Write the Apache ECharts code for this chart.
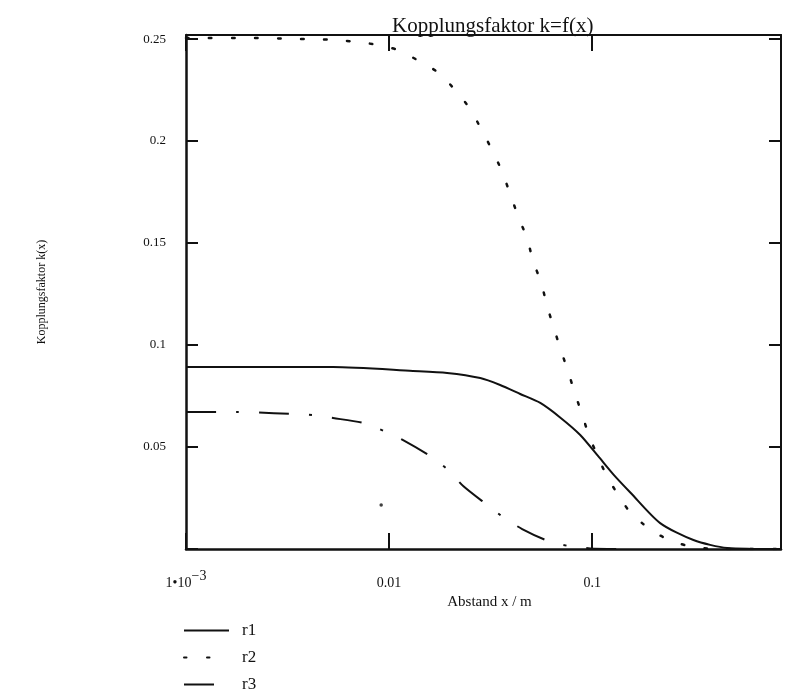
<!DOCTYPE html>
<html>
<head>
<meta charset="utf-8">
<script src="https://cdn.jsdelivr.net/npm/echarts@6/dist/echarts.min.js"></script>
<style>
  html, body { margin: 0; padding: 0; background: #ffffff; }
  #chart { width: 795px; height: 695px; }
</style>
</head>
<body>
<div id="chart"></div>
<script>
// ---- data (x in m, k dimensionless) ----
const seriesNames = ['r1', 'r2', 'r3'];
const xTickValues = [0.001, 0.01, 0.1];
const yTickLabels = ['0.05', '0.1', '0.15', '0.2', '0.25'];

const r1X = [0.001, 0.0053, 0.0131, 0.0193, 0.0281, 0.0352, 0.0442, 0.0555, 0.0695, 0.0873, 0.107, 0.127, 0.154, 0.216, 0.315, 0.462, 0.85];
const r1Y = [0.0892, 0.0892, 0.0873, 0.0863, 0.0838, 0.0804, 0.0760, 0.0716, 0.0645, 0.0559, 0.0455, 0.0366, 0.0277, 0.0127, 0.0044, 0.0005, 0.0];

const r2X = [0.001, 0.00227, 0.00297, 0.0039, 0.00512, 0.00665, 0.00873, 0.01107, 0.01406, 0.01762, 0.02113, 0.02506, 0.02838, 0.03213, 0.03606, 0.03945, 0.04315, 0.04786, 0.05117, 0.0561, 0.060, 0.065, 0.0703, 0.0762, 0.0824, 0.0893, 0.0966, 0.107, 0.1186, 0.1343, 0.152, 0.176, 0.209, 0.2535, 0.315, 0.399, 0.85];
const r2Y = [0.2505, 0.2505, 0.2503, 0.2500, 0.2497, 0.2488, 0.2472, 0.2446, 0.2392, 0.2333, 0.2250, 0.2157, 0.2059, 0.1956, 0.1848, 0.1740, 0.1632, 0.1520, 0.1412, 0.1304, 0.1191, 0.1078, 0.0971, 0.0868, 0.0760, 0.0657, 0.0554, 0.0450, 0.0353, 0.0265, 0.0186, 0.0127, 0.0074, 0.0034, 0.0010, 0.0001, 0.0];

const r3X = [0.001, 0.00178, 0.00271, 0.00418, 0.0053, 0.00745, 0.00944, 0.01172, 0.0159, 0.01953, 0.02316, 0.0304, 0.0369, 0.0452, 0.0607, 0.0762, 0.0977, 0.1327];
const r3Y = [0.0672, 0.0672, 0.0666, 0.0657, 0.0642, 0.0618, 0.0578, 0.0534, 0.0456, 0.0387, 0.0309, 0.0216, 0.0152, 0.0098, 0.0039, 0.0015, 0.0003, 0.0];

const strayX = [0.00914];
const strayY = [0.0216];

const xMin = 0.001, xMax = 0.85;
const yMin = 0, yMax = 0.252;

function pairs(xs, ys) { return xs.map((x, i) => [x, ys[i]]); }

const FONT = '"Liberation Serif", "DejaVu Serif", serif';
const chart = echarts.init(document.getElementById('chart'), null, { renderer: 'canvas' });

const isTick = v => xTickValues.some(t => Math.abs(Math.log10(v) - Math.log10(t)) < 1e-6);

const option = {
  backgroundColor: '#ffffff',
  animation: false,
  title: {
    text: 'Kopplungsfaktor k=f(x)',
    left: 387, top: 11,
    textStyle: { fontFamily: FONT, fontSize: 21, fontWeight: 'normal', color: '#111' }
  },
  legend: {
    orient: 'vertical',
    left: 183, top: 622, padding: 0,
    itemWidth: 45, itemHeight: 14, itemGap: 10,
    data: seriesNames,
    itemStyle: { opacity: 0 },
    textStyle: { fontFamily: FONT, fontSize: 17, color: '#111', padding: [0, 0, 0, 8] }
  },
  grid: { left: 186, right: 14, top: 35, bottom: 146, containLabel: false },
  xAxis: [{
    type: 'log', logBase: 10, min: xMin, max: xMax,
    name: 'Abstand x / m', nameLocation: 'middle', nameGap: 46,
    nameTextStyle: { fontFamily: FONT, fontSize: 15, color: '#111', padding: [0, 0, 0, 12] },
    axisLine: { onZero: false, lineStyle: { color: '#111', width: 2.5 } },
    axisTick: { show: true, inside: true, length: 16, lineStyle: { color: '#111', width: 2 } },
    minorTick: { show: false },
    splitLine: { show: false },
    axisLabel: {
      margin: 20, showMaxLabel: false,
      fontFamily: FONT, fontSize: 14, color: '#111',
      formatter: function (v) {
        if (!isTick(v)) return '';
        if (Math.abs(v - 0.001) < 1e-9) return '{b|1•10}{s|−3}';
        return '{b|' + (v >= 0.1 ? '0.1' : '0.01') + '}';
      },
      rich: {
        b: { fontFamily: FONT, fontSize: 14, color: '#111', lineHeight: 28 },
        s: { fontFamily: FONT, fontSize: 14, color: '#111', lineHeight: 10, verticalAlign: 'top' }
      }
    }
  }, {
    type: 'log', logBase: 10, min: xMin, max: xMax, position: 'top',
    axisLine: { onZero: false, lineStyle: { color: '#111', width: 2 } },
    axisTick: { show: true, inside: true, length: 16, lineStyle: { color: '#111', width: 2 } },
    minorTick: { show: false },
    axisLabel: { show: false }, splitLine: { show: false }
  }],
  yAxis: [{
    type: 'value', min: yMin, max: yMax, interval: 0.05,
    name: 'Kopplungsfaktor k(x)', nameLocation: 'middle', nameGap: 138,
    nameTextStyle: { fontFamily: FONT, fontSize: 12, color: '#111' },
    axisLine: { show: true, onZero: false, lineStyle: { color: '#111', width: 2.5 } },
    axisTick: { show: true, inside: true, length: 12, lineStyle: { color: '#111', width: 2 } },
    splitLine: { show: false },
    axisLabel: {
      margin: 20, fontFamily: FONT, fontSize: 13, color: '#111',
      formatter: function (v) {
        const s = yTickLabels.find(t => Math.abs(parseFloat(t) - v) < 1e-6);
        return s || '';
      }
    }
  }, {
    type: 'value', min: yMin, max: yMax, interval: 0.05, position: 'right',
    axisLine: { show: true, onZero: false, lineStyle: { color: '#111', width: 2 } },
    axisTick: { show: true, inside: true, length: 12, lineStyle: { color: '#111', width: 2 } },
    axisLabel: { show: false }, splitLine: { show: false }
  }],
  series: [
    {
      name: 'r1', type: 'line', data: pairs(r1X, r1Y), showSymbol: false, symbol: 'none',
      smooth: 0.25, color: '#111',
      lineStyle: { color: '#111', width: 2, type: 'solid' }
    },
    {
      name: 'r2', type: 'line', data: pairs(r2X, r2Y), showSymbol: false, symbol: 'none',
      smooth: 0.25, color: '#111',
      lineStyle: { color: '#111', width: 2.5, type: [2.5, 20.5], cap: 'round' }
    },
    {
      name: 'r3', type: 'line', data: pairs(r3X, r3Y), showSymbol: false, symbol: 'none',
      smooth: 0.25, color: '#111',
      lineStyle: { color: '#111', width: 2, type: [30, 20, 3, 20] }
    },
    {
      name: 'stray', type: 'scatter', data: pairs(strayX, strayY),
      symbol: 'circle', symbolSize: 3.5, itemStyle: { color: '#111' }, silent: true
    }
  ]
};
chart.setOption(option);
</script>
</body>
</html>
